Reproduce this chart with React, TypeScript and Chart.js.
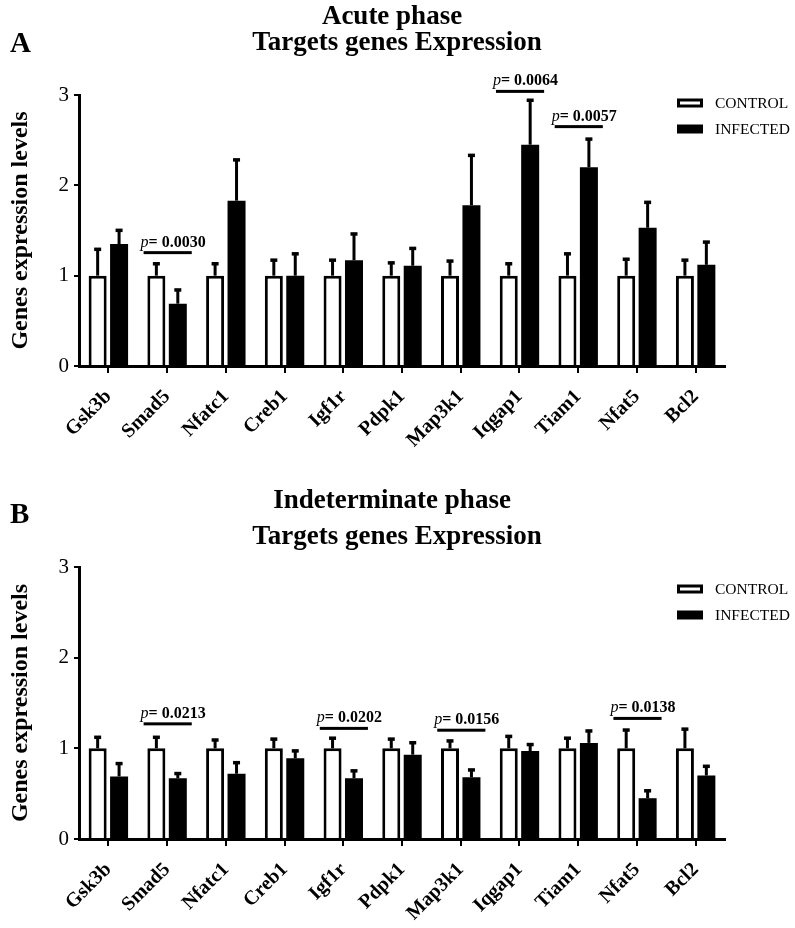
import React, { useEffect, useRef } from 'react';
import { Chart, registerables } from 'chart.js';

Chart.register(...registerables);

// ---------- DATA ----------
const genes = ['Gsk3b', 'Smad5', 'Nfatc1', 'Creb1', 'Igf1r', 'Pdpk1', 'Map3k1', 'Iqgap1', 'Tiam1', 'Nfat5', 'Bcl2'];
const yTicks = [0, 1, 2, 3];

const acuteControl = [1, 1, 1, 1, 1, 1, 1, 1, 1, 1, 1];
const acuteControlSem = [0.30, 0.14, 0.14, 0.18, 0.18, 0.15, 0.17, 0.14, 0.25, 0.19, 0.18];
const acuteInfected = [1.35, 0.69, 1.83, 1.00, 1.17, 1.11, 1.78, 2.45, 2.20, 1.53, 1.12];
const acuteInfectedSem = [0.16, 0.16, 0.46, 0.25, 0.30, 0.20, 0.56, 0.50, 0.32, 0.29, 0.26];
const acutePGenes = ['Smad5', 'Iqgap1', 'Tiam1'];
const acutePLevels = [1.255, 3.04, 2.65];
const acutePValues = ['0.0030', '0.0064', '0.0057'];

const indetControl = [1, 1, 1, 1, 1, 1, 1, 1, 1, 1, 1];
const indetControlSem = [0.13, 0.13, 0.10, 0.11, 0.12, 0.11, 0.09, 0.14, 0.12, 0.21, 0.22];
const indetInfected = [0.69, 0.67, 0.72, 0.89, 0.67, 0.93, 0.68, 0.97, 1.06, 0.45, 0.70];
const indetInfectedSem = [0.15, 0.06, 0.13, 0.09, 0.09, 0.14, 0.09, 0.08, 0.14, 0.09, 0.11];
const indetPGenes = ['Smad5', 'Igf1r', 'Map3k1', 'Nfat5'];
const indetPLevels = [1.27, 1.22, 1.20, 1.33];
const indetPValues = ['0.0213', '0.0202', '0.0156', '0.0138'];

const seriesNames = ['CONTROL', 'INFECTED'];
const yTitle = 'Genes expression levels';

// ---------- STYLE ----------
const SERIF = "'Liberation Serif', 'Times New Roman', serif";
const W = 795;
const H = 464;

type PanelCfg = {
  top: number;
  letter: string;
  title1: string;
  title2: string;
  chartTop: number;
  chartBottom: number;
  letterY: number;
  title1Y: number;
  title2Y: number;
  legendY: number;
  control: number[];
  controlSem: number[];
  infected: number[];
  infectedSem: number[];
  pGenes: string[];
  pLevels: number[];
  pValues: string[];
};

const panels: PanelCfg[] = [
  {
    top: 0, letter: 'A', title1: 'Acute phase', title2: 'Targets genes Expression',
    chartTop: 95, chartBottom: 366, letterY: 52, title1Y: 24, title2Y: 50, legendY: 103,
    control: acuteControl, controlSem: acuteControlSem, infected: acuteInfected, infectedSem: acuteInfectedSem,
    pGenes: acutePGenes, pLevels: acutePLevels, pValues: acutePValues,
  },
  {
    top: 464, letter: 'B', title1: 'Indeterminate phase', title2: 'Targets genes Expression',
    chartTop: 103, chartBottom: 375, letterY: 59, title1Y: 44, title2Y: 80, legendY: 125,
    control: indetControl, controlSem: indetControlSem, infected: indetInfected, infectedSem: indetInfectedSem,
    pGenes: indetPGenes, pLevels: indetPLevels, pValues: indetPValues,
  },
];

function PanelChart({ cfg }: { cfg: PanelCfg }) {
  const ref = useRef<HTMLCanvasElement>(null);
  useEffect(() => {
    const canvas = ref.current!;
    const sems = [cfg.controlSem, cfg.infectedSem];
    const overlay = {
      id: 'overlay',
      afterDatasetsDraw(chart: any) {
        const ctx = chart.ctx;
        const y = chart.scales.y;
        ctx.save();
        ctx.fillStyle = '#000';
        ctx.strokeStyle = '#000';
        [0, 1].forEach((di) => {
          const meta = chart.getDatasetMeta(di);
          const vals = chart.data.datasets[di].data as number[];
          meta.data.forEach((el: any, i: number) => {
            const top = y.getPixelForValue(vals[i]);
            const errY = y.getPixelForValue(vals[i] + sems[di][i]);
            ctx.lineWidth = 3;
            ctx.beginPath();
            ctx.moveTo(el.x, top);
            ctx.lineTo(el.x, errY);
            ctx.stroke();
            ctx.fillRect(el.x - 3.5, errY - 1, 7, 3.5);
          });
        });
        ctx.restore();
      },
      afterDraw(chart: any) {
        const ctx = chart.ctx;
        const xs = chart.scales.x;
        const ys = chart.scales.y;
        const area = chart.chartArea;
        ctx.save();
        ctx.fillStyle = '#000';
        ctx.textBaseline = 'alphabetic';
        // panel letter
        ctx.font = `bold 29px ${SERIF}`;
        ctx.textAlign = 'left';
        ctx.fillText(cfg.letter, 10, cfg.letterY);
        // titles
        ctx.textAlign = 'center';
        ctx.font = `bold 27px ${SERIF}`;
        ctx.fillText(cfg.title1, 392, cfg.title1Y);
        ctx.fillText(cfg.title2, 397, cfg.title2Y);
        // legend
        const lx = 677;
        ctx.textAlign = 'left';
        ctx.textBaseline = 'middle';
        ctx.font = `15.5px ${SERIF}`;
        seriesNames.forEach((name, k) => {
          const cy = cfg.legendY + k * 26;
          if (k === 0) {
            ctx.lineWidth = 3;
            ctx.strokeStyle = '#000';
            ctx.fillStyle = '#fff';
            ctx.fillRect(lx + 1.5, cy - 3, 23, 6);
            ctx.strokeRect(lx + 1.5, cy - 3, 23, 6);
          } else {
            ctx.fillStyle = '#000';
            ctx.fillRect(lx, cy - 4.5, 26, 9);
          }
          ctx.fillStyle = '#000';
          ctx.fillText(name, 715, cy + 1);
        });
        // p-value annotations
        const catW = (area.right - area.left) / genes.length;
        cfg.pGenes.forEach((g, k) => {
          const cx = xs.getPixelForValue(genes.indexOf(g));
          const ly = ys.getPixelForValue(cfg.pLevels[k]);
          const x0 = cx - catW * 0.4;
          const x1 = cx + catW * 0.42;
          ctx.fillStyle = '#000';
          ctx.fillRect(x0, ly - 1.5, x1 - x0, 3);
          ctx.textBaseline = 'alphabetic';
          ctx.textAlign = 'left';
          ctx.font = `italic 16px ${SERIF}`;
          const tx = x0 - 3;
          const ty = ly - 6;
          ctx.fillText('p', tx, ty);
          const pw = ctx.measureText('p').width;
          ctx.font = `bold 16px ${SERIF}`;
          ctx.fillText('= ' + cfg.pValues[k], tx + pw, ty);
        });
        ctx.restore();
      },
    };

    const chart = new Chart(canvas, {
      type: 'bar',
      data: {
        labels: genes,
        datasets: [
          {
            label: seriesNames[0],
            data: cfg.control,
            backgroundColor: '#ffffff',
            borderColor: '#000000',
            borderWidth: 3,
            borderSkipped: 'bottom',
            barPercentage: 0.84,
            categoryPercentage: 0.73,
          },
          {
            label: seriesNames[1],
            data: cfg.infected,
            backgroundColor: '#000000',
            borderColor: '#000000',
            borderWidth: 0,
            barPercentage: 0.84,
            categoryPercentage: 0.73,
          },
        ],
      },
      options: {
        responsive: false,
        animation: false,
        devicePixelRatio: 1,
        layout: { padding: { top: cfg.chartTop, right: 70, left: 0, bottom: 0 } },
        plugins: { legend: { display: false }, tooltip: { enabled: false }, title: { display: false } },
        scales: {
          x: {
            offset: true,
            grid: { offset: false, drawOnChartArea: false, drawTicks: true, tickLength: 7, color: '#000', lineWidth: 2 },
            border: { display: true, color: '#000', width: 3 },
            ticks: {
              autoSkip: false,
              minRotation: 45,
              maxRotation: 45,
              color: '#000',
              padding: 12,
              font: { family: SERIF, size: 20, weight: 'bold' },
            },
            afterFit: (scale: any) => {
              scale.height = H - cfg.chartBottom;
              scale.paddingLeft = 0;
              scale.paddingRight = 0;
            },
          },
          y: {
            min: 0,
            max: 3,
            afterBuildTicks: (scale: any) => {
              scale.ticks = yTicks.map((v) => ({ value: v }));
            },
            grid: { drawOnChartArea: false, drawTicks: true, tickLength: 5, color: '#000', lineWidth: 2 },
            border: { display: true, color: '#000', width: 3 },
            ticks: {
              color: '#000',
              padding: 5,
              font: { family: SERIF, size: 21 },
            },
            title: {
              display: true,
              text: yTitle,
              color: '#000',
              font: { family: SERIF, size: 24, weight: 'bold' },
              padding: { top: 6, bottom: 0 },
            },
            afterFit: (scale: any) => {
              scale.width = 79;
            },
          },
        },
      },
      plugins: [overlay],
    } as any);
    return () => chart.destroy();
  }, []);
  return (
    <canvas
      ref={ref}
      width={W}
      height={H}
      style={{ position: 'absolute', left: 0, top: cfg.top, width: W, height: H, display: 'block' }}
    />
  );
}

export default function App() {
  return (
    <div style={{ position: 'fixed', left: 0, top: 0, width: W, height: 928, background: '#fff', overflow: 'hidden' }}>
      {panels.map((p) => (
        <PanelChart key={p.letter} cfg={p} />
      ))}
    </div>
  );
}
